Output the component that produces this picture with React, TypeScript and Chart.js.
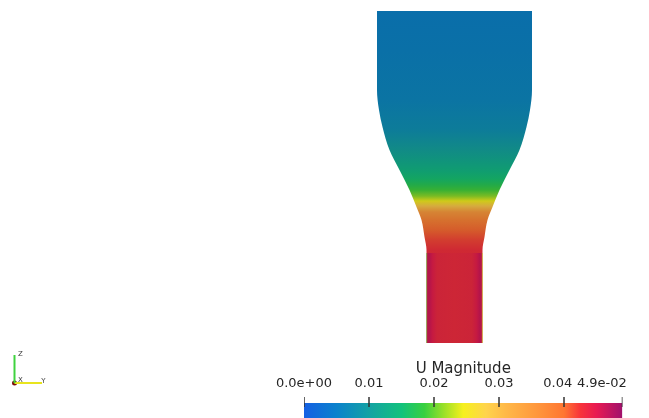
import React, { useEffect, useRef } from 'react';
import { Chart, registerables } from 'chart.js';

Chart.register(...registerables);

const FONT = '"DejaVu Sans", sans-serif';

// ---------- data ----------
// Diffuser outline: axial position z (cm, from pipe outlet) and half-width r (cm)
const PROFILE_Z = [0, 9.3, 10.6, 12.3, 13.6, 15.3, 17.3, 19.3, 21.6, 23.3, 25.3, 33.2];
const PROFILE_R = [2.8, 2.8, 3.0, 3.3, 3.8, 4.5, 5.5, 6.5, 7.2, 7.55, 7.75, 7.75];

// Centre-line velocity magnitude along z
const AXIAL_Z = [0, 8.3, 9.3, 10.3, 11.3, 12.3, 13.1, 13.7, 14.2, 14.7, 15.3, 15.8, 16.4, 17.2, 18.2, 19.5, 21.3, 24.3, 29.3, 33.2];
const AXIAL_U = [0.0432, 0.0432, 0.0428, 0.0417, 0.0403, 0.038, 0.035, 0.029, 0.0245, 0.0212, 0.0188, 0.0172, 0.0155, 0.0138, 0.0122, 0.0102, 0.0078, 0.0063, 0.0056, 0.0052];

// Outlet pipe: cross-section velocity profile (position as fraction of radius)
const PIPE_Z = [0, 9.0];
const LAT_POS = [-1, -0.96, -0.9, -0.78, -0.62, 0, 0.62, 0.78, 0.9, 0.96, 1];
const LAT_U = [0.02, 0.0458, 0.046, 0.0445, 0.0434, 0.0432, 0.0434, 0.0445, 0.046, 0.0458, 0.024];

// Colour map (U Magnitude)
const CMAP_U = [0, 0.005, 0.01, 0.015, 0.0185, 0.0215, 0.0245, 0.028, 0.031, 0.036, 0.04, 0.0425, 0.045, 0.049];
const CMAP_HEX = ['#1560e4', '#0b82cc', '#14a2a4', '#12c27c', '#38d040', '#9ae028', '#f6f01e', '#ffd44c', '#ffb948', '#ff963c', '#ff7632', '#f8343a', '#e81a52', '#a0106c'];
const U_MIN = 0;
const U_MAX = 0.049;
const TICK_VALUES = [0, 0.01, 0.02, 0.03, 0.04, 0.049];
const TICK_LABELS = ['0.0e+00', '0.01', '0.02', '0.03', '0.04', '4.9e-02'];
const BAR_TITLE = 'U Magnitude';

// Orientation triad
const TRIAD_ORIGIN = { x: -44, y: -4 };
const TRIAD_Z_END = { x: -44, y: -1.2 };
const TRIAD_Y_END = { x: -41.25, y: -4 };
const TRIAD_TEXT = ['X', 'Y', 'Z'];
const TRIAD_TEXT_X = [-43.4, -41.1, -43.4];
const TRIAD_TEXT_Y = [-3.75, -3.8, -1.15];

// ---------- styling ----------
const SHADE = 0.84;
const VIEW_X = [-45.45, 19.45];
const VIEW_Y = [-7.5, 34.3];
const BAR_TOP = 0.675;
const TICK_TOP = 0.825;
const TICK_BOTTOM = 0.575;
const LABEL_PAD = [0, 0, 0, 0, 3, 10];

function hexRgb(h: string): number[] {
  const n = parseInt(h.slice(1), 16);
  return [(n >> 16) & 255, (n >> 8) & 255, n & 255];
}
const CMAP_RGB = CMAP_HEX.map(hexRgb);

function colormap(u: number): number[] {
  if (u <= CMAP_U[0]) return CMAP_RGB[0];
  for (let i = 1; i < CMAP_U.length; i++) {
    if (u <= CMAP_U[i]) {
      const t = (u - CMAP_U[i - 1]) / (CMAP_U[i] - CMAP_U[i - 1]);
      const a = CMAP_RGB[i - 1];
      const b = CMAP_RGB[i];
      return [0, 1, 2].map((k) => a[k] + (b[k] - a[k]) * t);
    }
  }
  return CMAP_RGB[CMAP_RGB.length - 1];
}
function rgb(c: number[], s = 1): string {
  return `rgb(${c.map((v) => Math.round(Math.min(255, v * s))).join(',')})`;
}

function shapeFill(ctx: any) {
  const chart = ctx.chart;
  if (!chart.chartArea) return 'rgba(0,0,0,0)';
  const ys = chart.scales.y;
  const p0 = ys.getPixelForValue(AXIAL_Z[0]);
  const p1 = ys.getPixelForValue(AXIAL_Z[AXIAL_Z.length - 1]);
  const g = chart.ctx.createLinearGradient(0, p0, 0, p1);
  AXIAL_Z.forEach((z, i) => {
    const p = ys.getPixelForValue(z);
    g.addColorStop((p - p0) / (p1 - p0), rgb(colormap(AXIAL_U[i]), SHADE));
  });
  return g;
}

function pipeFill(ctx: any) {
  const chart = ctx.chart;
  if (!chart.chartArea) return 'rgba(0,0,0,0)';
  const xs = chart.scales.x;
  const r = PROFILE_R[0];
  const p0 = xs.getPixelForValue(-r);
  const p1 = xs.getPixelForValue(r);
  const g = chart.ctx.createLinearGradient(p0, 0, p1, 0);
  LAT_POS.forEach((f, i) => {
    g.addColorStop((f + 1) / 2, rgb(colormap(LAT_U[i]), SHADE));
  });
  return g;
}

function barFill(ctx: any) {
  const chart = ctx.chart;
  if (!chart.chartArea) return 'rgba(0,0,0,0)';
  const xs = chart.scales.x;
  const p0 = xs.getPixelForValue(U_MIN);
  const p1 = xs.getPixelForValue(U_MAX);
  const g = chart.ctx.createLinearGradient(p0, 0, p1, 0);
  CMAP_U.forEach((u, i) => {
    g.addColorStop((u - U_MIN) / (U_MAX - U_MIN), rgb(CMAP_RGB[i]));
  });
  return g;
}

const NONE = 'rgba(0,0,0,0)';

const triadLabels = {
  id: 'triadLabels',
  afterDatasetsDraw(chart: any) {
    const { ctx, scales } = chart;
    ctx.save();
    ctx.font = `7px ${FONT}`;
    ctx.fillStyle = '#3a3a3a';
    ctx.textAlign = 'center';
    ctx.textBaseline = 'middle';
    TRIAD_TEXT.forEach((t, i) => {
      ctx.fillText(t, scales.x.getPixelForValue(TRIAD_TEXT_X[i]), scales.y.getPixelForValue(TRIAD_TEXT_Y[i]));
    });
    ctx.restore();
  },
};

export default function App() {
  const mainRef = useRef<HTMLCanvasElement>(null);
  const barRef = useRef<HTMLCanvasElement>(null);

  useEffect(() => {
    const right = PROFILE_Z.map((z, i) => ({ x: PROFILE_R[i], y: z }));
    const left = PROFILE_Z.map((z, i) => ({ x: -PROFILE_R[i], y: z }));
    const pipeRight = PIPE_Z.map((z) => ({ x: PROFILE_R[0], y: z }));
    const pipeLeft = PIPE_Z.map((z) => ({ x: -PROFILE_R[0], y: z }));

    const edge = { borderColor: NONE, borderWidth: 1, pointRadius: 0, cubicInterpolationMode: 'monotone' as const };

    const main = new Chart(mainRef.current!, {
      type: 'line',
      data: {
        datasets: [
          { data: [TRIAD_ORIGIN, TRIAD_Z_END], borderColor: '#3fd23f', borderWidth: 2, pointRadius: 0, fill: false },
          { data: [TRIAD_ORIGIN, TRIAD_Y_END], borderColor: '#e8e41e', borderWidth: 2, pointRadius: 0, fill: false },
          { data: [TRIAD_ORIGIN], showLine: false, pointRadius: 2.5, pointBorderWidth: 0, pointBackgroundColor: '#7a0c0c', fill: false },
          { ...edge, data: pipeRight, fill: '+1', backgroundColor: pipeFill },
          { ...edge, data: pipeLeft, fill: false },
          { ...edge, data: right, fill: '+1', backgroundColor: shapeFill },
          { ...edge, data: left, fill: false },
        ] as any,
      },
      options: {
        indexAxis: 'y',
        responsive: false,
        animation: false,
        events: [],
        layout: { padding: 0, autoPadding: false },
        scales: {
          x: { type: 'linear', display: false, min: VIEW_X[0], max: VIEW_X[1] },
          y: { type: 'linear', display: false, min: VIEW_Y[0], max: VIEW_Y[1] },
        },
        plugins: { legend: { display: false }, tooltip: { enabled: false } },
      },
      plugins: [triadLabels],
    });

    const tickSets = TICK_VALUES.map((v) => ({
      data: [{ x: v, y: TICK_TOP }, { x: v, y: TICK_BOTTOM }],
      borderColor: '#333333',
      borderWidth: 1.5,
      pointRadius: 0,
      fill: false,
    }));

    const bar = new Chart(barRef.current!, {
      type: 'line',
      data: {
        datasets: [
          ...tickSets,
          {
            data: [{ x: U_MIN, y: BAR_TOP }, { x: U_MAX, y: BAR_TOP }],
            borderColor: NONE,
            borderWidth: 1,
            pointRadius: 0,
            fill: 'start',
            backgroundColor: barFill,
          },
        ] as any,
      },
      options: {
        responsive: false,
        animation: false,
        events: [],
        layout: { padding: { left: 304, right: 97.5, top: 22, bottom: 0 }, autoPadding: false },
        scales: {
          x: {
            type: 'linear',
            position: 'top',
            min: U_MIN,
            max: U_MAX,
            afterBuildTicks: (scale: any) => {
              scale.ticks = TICK_VALUES.map((v) => ({ value: v }));
            },
            ticks: {
              autoSkip: false,
              maxRotation: 0,
              minRotation: 0,
              padding: 0,
              color: '#262626',
              font: { family: FONT, size: 13, lineHeight: 1 },
              callback: (_v: any, i: number) => TICK_LABELS[i] + ' '.repeat(LABEL_PAD[i]),
            },
            grid: { display: false, drawTicks: false },
            border: { display: false },
            title: {
              display: true,
              text: BAR_TITLE,
              color: '#262626',
              padding: 0,
              font: { family: FONT, size: 15, lineHeight: 1 },
            },
          },
          y: { type: 'linear', display: false, min: 0, max: 1 },
        },
        plugins: { legend: { display: false }, tooltip: { enabled: false } },
      },
    });

    return () => {
      main.destroy();
      bar.destroy();
    };
  }, []);

  return (
    <div style={{ position: 'absolute', left: 0, top: 0, width: 649, height: 418, overflow: 'hidden', background: '#ffffff' }}>
      <canvas ref={mainRef} width={649} height={418} style={{ position: 'absolute', left: 0, top: 0 }} />
      <canvas ref={barRef} width={720} height={90} style={{ position: 'absolute', left: 0, top: 340 }} />
    </div>
  );
}
